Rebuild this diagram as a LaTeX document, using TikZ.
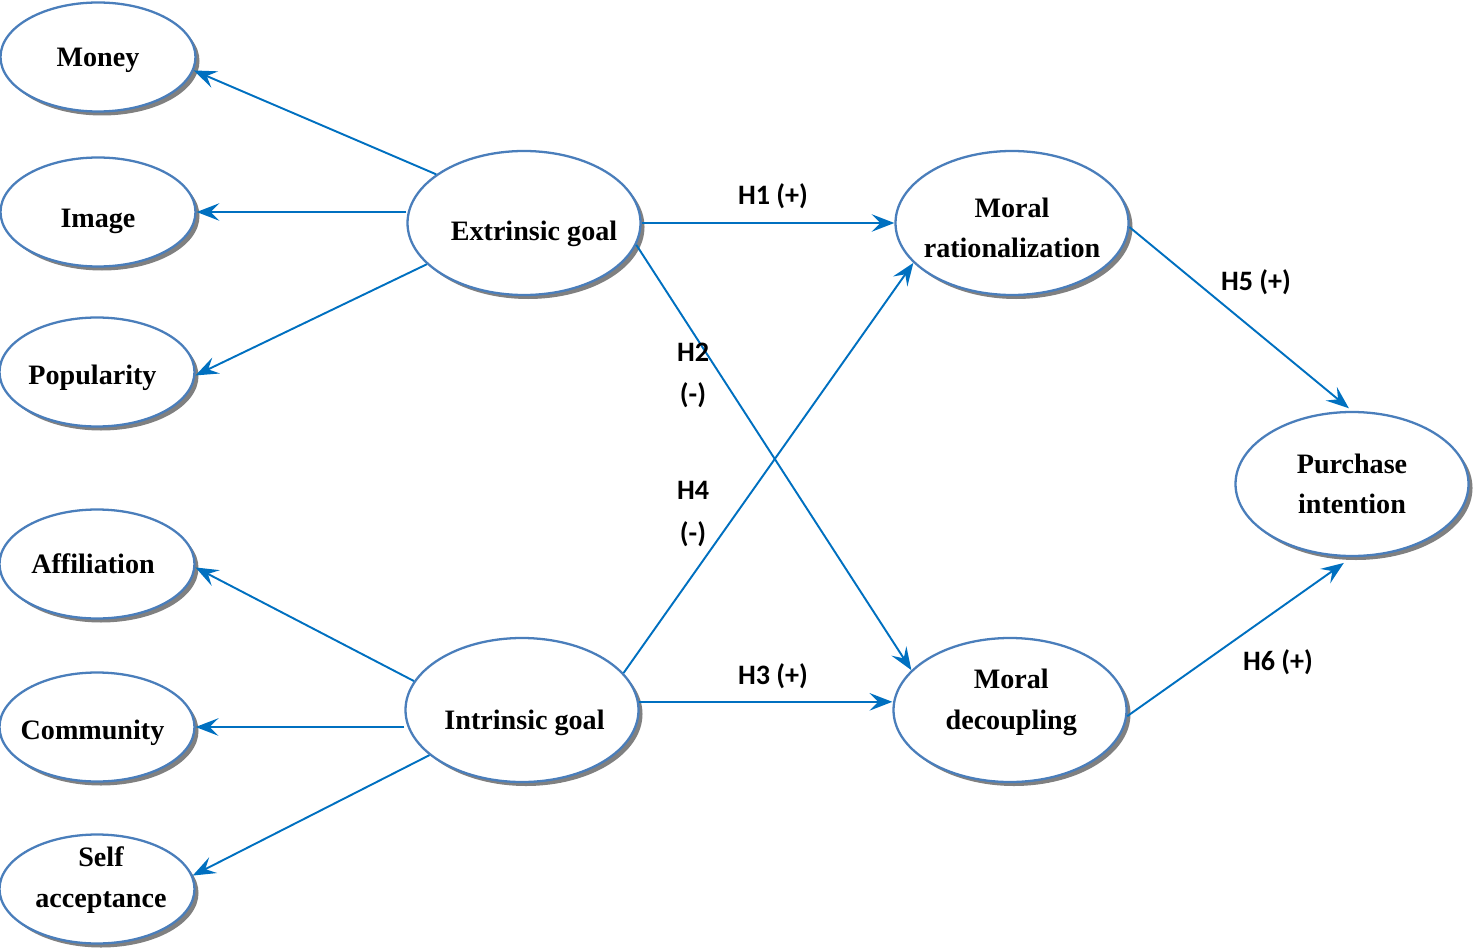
\documentclass[tikz,border=0pt]{standalone}
\usepackage{fontspec}
\setmainfont{Liberation Serif}
\newfontfamily\labelfont{Carlito}
\usepackage{tikz}
\usetikzlibrary{arrows.meta,positioning,shapes,shadows}
\definecolor{rimblue}{HTML}{4A7EBB}
\definecolor{arrowblue}{HTML}{0070C0}
\definecolor{shadowgray}{HTML}{808080}
% text inside an ellipse: vertical shift, horizontal shift (doubled), lines
\newcommand{\elltext}[3]{\raisebox{\dimexpr#1-5.1pt\relax}[0pt][0pt]{%
  \makebox[0pt]{\hspace*{#2}\begin{tabular}{@{}c@{}}#3\end{tabular}}}}
\tikzset{
  facet/.style={ellipse,draw=rimblue,fill=white,line width=1.3pt,
                minimum width=3.9cm,minimum height=2.18cm,inner sep=0pt,
                font=\fontsize{16}{23}\selectfont\bfseries,
                drop shadow={shadow xshift=0.08cm,shadow yshift=-0.08cm,
                             fill=shadowgray,opacity=1}},
  construct/.style={facet,minimum width=4.66cm,minimum height=2.88cm},
  patharr/.style={-{Stealth[length=13pt,width=10pt,inset=5pt]},
                  line width=1.1pt,color=arrowblue},
  hyplabel/.style={align=center,inner sep=0pt,
                   font=\labelfont\fontsize{16}{24}\selectfont\bfseries}
}
\begin{document}
\begin{tikzpicture}
  \useasboundingbox (0,0) rectangle (29.48,-18.94);

  % Dimensions of the two goals
  \node[facet] (money) at (1.96,-1.14) {\elltext{0pt}{0cm}{Money}};
  \node[facet] (image) at (1.96,-4.24) {\elltext{-3.4pt}{0cm}{Image}};
  \node[facet] (popul) at (1.94,-7.44) {\elltext{-1.7pt}{-0.18cm}{Popularity}};
  \node[facet] (affil) at (1.94,-11.28) {\elltext{0pt}{-0.16cm}{Affiliation}};
  \node[facet] (commu) at (1.94,-14.54) {\elltext{-1.7pt}{-0.18cm}{Community}};
  \node[facet] (selfacc) at (1.94,-17.78) {\elltext{6.5pt}{0.16cm}{Self\\acceptance}};

  % Goals, mediators and outcome
  \node[construct] (extr) at (10.48,-4.46) {\elltext{-4.5pt}{0.4cm}{Extrinsic goal}};
  \node[construct] (intr) at (10.44,-14.2) {\elltext{-5.7pt}{0.1cm}{Intrinsic goal}};
  \node[construct] (morrat) at (20.24,-4.46) {\elltext{-3pt}{0cm}{Moral\\rationalization}};
  \node[construct] (mordec) at (20.2,-14.2) {\elltext{6pt}{0.05cm}{Moral\\decoupling}};
  \node[construct] (purch) at (27.04,-9.68) {\elltext{0pt}{0cm}{Purchase\\intention}};

  % Goal dimensions
  \draw[patharr] (extr.151) -- (money.-8);
  \draw[patharr] (extr.west |- image.east) -- (image.east);
  \draw[patharr] (extr.203) -- (popul.-2);
  \draw[patharr] (intr.165) -- (affil.-2);
  \draw[patharr] (intr.west |- commu.east) -- (commu.east);
  \draw[patharr] (intr.206) -- (selfacc.8);

  % Hypotheses
  \draw[patharr] (extr.east) -- (morrat.west);
  \draw[patharr] (extr.-11) -- (mordec.158);
  \draw[patharr] (intr.20) -- (morrat.202);
  \draw[patharr] (intr.4) -- (mordec.west |- intr.4);
  \draw[patharr,shorten >=0.08cm] (morrat.-2) -- (purch.north);
  \draw[patharr,shorten >=0.2cm] (mordec.-3) -- (purch.south);

  \node[hyplabel] (h1) at (15.46,-3.92) {H1 (+)};
  \node[hyplabel] (h2) at (13.86,-7.5) {H2\\(-)};
  \node[hyplabel] (h4) at (13.86,-10.28) {H4\\(-)};
  \node[hyplabel] (h3) at (15.46,-13.52) {H3 (+)};
  \node[hyplabel] (h5) at (25.12,-5.64) {H5 (+)};
  \node[hyplabel] (h6) at (25.56,-13.24) {H6 (+)};
\end{tikzpicture}
\end{document}
